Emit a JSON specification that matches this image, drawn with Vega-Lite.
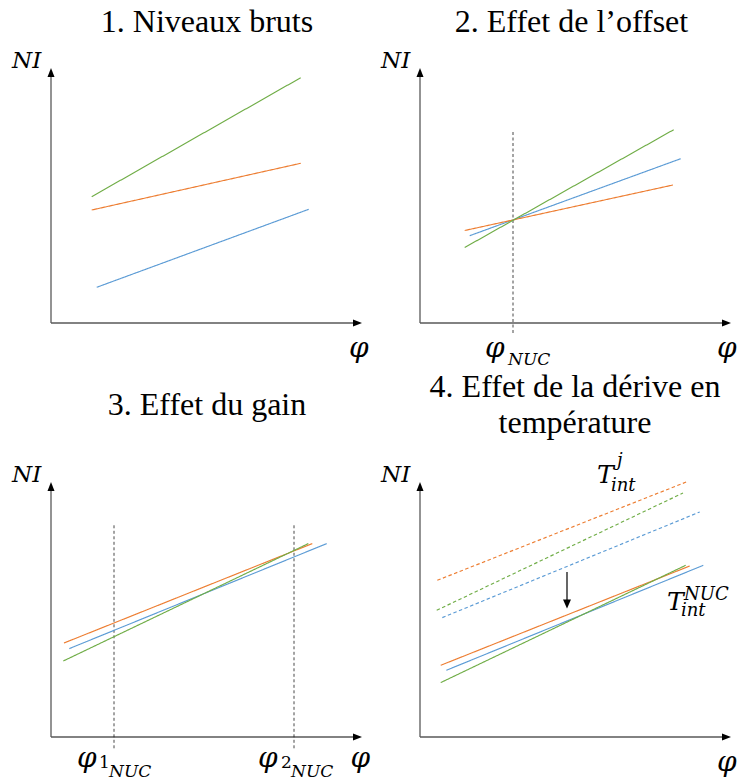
{
  "$schema": "https://vega.github.io/schema/vega-lite/v6.json",
  "padding": 0,
  "background": "white",
  "columns": 2,
  "spacing": {"row": 45, "column": 1},
  "bounds": "flush",
  "facet": {"field": "panel", "type": "ordinal", "title": null, "header": {"labels": false, "title": null, "labelExpr": "''", "labelFontSize": 0, "labelPadding": 0, "titlePadding": 0}},
  "data": {"values": [
    {"panel": 1, "kind": "axis", "x": 0, "y": 0, "x2": 0, "y2": 250},
    {"panel": 1, "kind": "axis", "x": 0, "y": 0, "x2": 305, "y2": 0},
    {"panel": 2, "kind": "axis", "x": 0, "y": 0, "x2": 0, "y2": 250},
    {"panel": 2, "kind": "axis", "x": 0, "y": 0, "x2": 305, "y2": 0},
    {"panel": 3, "kind": "axis", "x": 0, "y": 0, "x2": 0, "y2": 250},
    {"panel": 3, "kind": "axis", "x": 0, "y": 0, "x2": 305, "y2": 0},
    {"panel": 4, "kind": "axis", "x": 0, "y": 0, "x2": 0, "y2": 250},
    {"panel": 4, "kind": "axis", "x": 0, "y": 0, "x2": 305, "y2": 0},
    {"panel": 1, "kind": "head", "dir": "up", "x": 0, "y": 255},
    {"panel": 1, "kind": "head", "dir": "right", "x": 311, "y": 0},
    {"panel": 2, "kind": "head", "dir": "up", "x": 0, "y": 255},
    {"panel": 2, "kind": "head", "dir": "right", "x": 311, "y": 0},
    {"panel": 3, "kind": "head", "dir": "up", "x": 0, "y": 255},
    {"panel": 3, "kind": "head", "dir": "right", "x": 311, "y": 0},
    {"panel": 4, "kind": "head", "dir": "up", "x": 0, "y": 255},
    {"panel": 4, "kind": "head", "dir": "right", "x": 311, "y": 0},
    {"panel": 4, "kind": "head", "dir": "down", "x": 147, "y": 128.4},
    {"panel": 4, "kind": "shift", "x": 147, "y": 165, "y2": 132},

    {"panel": 1, "kind": "series", "pixel": "p1", "temp": "T_NUC", "x": 45.7, "y": 35.7, "x2": 257.7, "y2": 113.7},
    {"panel": 1, "kind": "series", "pixel": "p2", "temp": "T_NUC", "x": 40.7, "y": 113, "x2": 249.7, "y2": 159.7},
    {"panel": 1, "kind": "series", "pixel": "p3", "temp": "T_NUC", "x": 40.7, "y": 126.3, "x2": 249.7, "y2": 245.3},

    {"panel": 2, "kind": "series", "pixel": "p1", "temp": "T_NUC", "x": 49.7, "y": 87.3, "x2": 260.7, "y2": 164.3},
    {"panel": 2, "kind": "series", "pixel": "p2", "temp": "T_NUC", "x": 44.7, "y": 92.5, "x2": 253, "y2": 138},
    {"panel": 2, "kind": "series", "pixel": "p3", "temp": "T_NUC", "x": 44.7, "y": 75.5, "x2": 253.7, "y2": 193.3},
    {"panel": 2, "kind": "marker", "x": 93, "y": -10, "y2": 193.3},

    {"panel": 3, "kind": "series", "pixel": "p1", "temp": "T_NUC", "x": 18.3, "y": 88.4, "x2": 275.7, "y2": 193.4},
    {"panel": 3, "kind": "series", "pixel": "p2", "temp": "T_NUC", "x": 13, "y": 94, "x2": 261.3, "y2": 193.4},
    {"panel": 3, "kind": "series", "pixel": "p3", "temp": "T_NUC", "x": 12.3, "y": 76, "x2": 257.3, "y2": 193.4},
    {"panel": 3, "kind": "marker", "x": 63, "y": -11.3, "y2": 212},
    {"panel": 3, "kind": "marker", "x": 243, "y": -11.3, "y2": 212},

    {"panel": 4, "kind": "series", "pixel": "p1", "temp": "T_j", "x": 22.3, "y": 119.4, "x2": 279.7, "y2": 225},
    {"panel": 4, "kind": "series", "pixel": "p2", "temp": "T_j", "x": 17.3, "y": 156.7, "x2": 266.3, "y2": 255},
    {"panel": 4, "kind": "series", "pixel": "p3", "temp": "T_j", "x": 16.7, "y": 126.7, "x2": 263, "y2": 244},
    {"panel": 4, "kind": "series", "pixel": "p1", "temp": "T_NUC", "x": 26.3, "y": 66.7, "x2": 283.3, "y2": 171.7},
    {"panel": 4, "kind": "series", "pixel": "p2", "temp": "T_NUC", "x": 20.7, "y": 71.7, "x2": 269.7, "y2": 171},
    {"panel": 4, "kind": "series", "pixel": "p3", "temp": "T_NUC", "x": 20.7, "y": 54.4, "x2": 265.7, "y2": 171.7},

    {"panel": 1, "kind": "title", "label": "1. Niveaux bruts", "x": 156, "y": 291},
    {"panel": 2, "kind": "title", "label": "2. Effet de l’offset", "x": 151.5, "y": 291},
    {"panel": 3, "kind": "title", "label": "3. Effet du gain", "x": 156, "y": 322},
    {"panel": 4, "kind": "title", "label": "4. Effet de la dérive en", "x": 155, "y": 339.7},
    {"panel": 4, "kind": "title", "label": "température", "x": 155, "y": 303.7},

    {"panel": 1, "kind": "math", "role": "main", "label": "NI", "x": -39, "y": 255},
    {"panel": 2, "kind": "math", "role": "main", "label": "NI", "x": -39, "y": 255},
    {"panel": 3, "kind": "math", "role": "main", "label": "NI", "x": -39, "y": 255},
    {"panel": 4, "kind": "math", "role": "main", "label": "NI", "x": -39, "y": 255},
    {"panel": 1, "kind": "math", "role": "phi", "label": "φ", "x": 298, "y": -34},
    {"panel": 2, "kind": "math", "role": "phi", "label": "φ", "x": 297, "y": -34},
    {"panel": 3, "kind": "math", "role": "phi", "label": "φ", "x": 299.5, "y": -30},
    {"panel": 4, "kind": "math", "role": "phi", "label": "φ", "x": 297, "y": -34},
    {"panel": 2, "kind": "math", "role": "phi", "label": "φ", "x": 65, "y": -34},
    {"panel": 2, "kind": "math", "role": "sub", "label": "NUC", "x": 88, "y": -42},
    {"panel": 3, "kind": "math", "role": "phi", "label": "φ", "x": 26, "y": -30},
    {"panel": 3, "kind": "digit", "label": "1", "x": 48, "y": -31},
    {"panel": 3, "kind": "math", "role": "sub", "label": "NUC", "x": 58, "y": -40},
    {"panel": 3, "kind": "math", "role": "phi", "label": "φ", "x": 207, "y": -30},
    {"panel": 3, "kind": "digit", "label": "2", "x": 230, "y": -31},
    {"panel": 3, "kind": "math", "role": "sub", "label": "NUC", "x": 240, "y": -40},
    {"panel": 4, "kind": "math", "role": "big", "label": "T", "x": 177, "y": 253.7},
    {"panel": 4, "kind": "math", "role": "tsub", "label": "j", "x": 197, "y": 271},
    {"panel": 4, "kind": "math", "role": "tsub", "label": "int", "x": 191, "y": 245.7},
    {"panel": 4, "kind": "math", "role": "big", "label": "T", "x": 247, "y": 126.7},
    {"panel": 4, "kind": "math", "role": "tsub", "label": "NUC", "x": 264, "y": 137},
    {"panel": 4, "kind": "math", "role": "tsub", "label": "int", "x": 261, "y": 120.7}
  ]},
  "spec": {
    "width": 368,
    "height": 369,
    "encoding": {
      "x": {"field": "x", "type": "quantitative", "scale": {"domain": [-51, 317], "nice": false, "zero": false}, "axis": null},
      "y": {"field": "y", "type": "quantitative", "scale": {"domain": [-46, 323], "nice": false, "zero": false}, "axis": null}
    },
    "layer": [
      {
        "transform": [{"filter": "datum.kind === 'axis'"}],
        "mark": {"type": "rule", "color": "#595959", "strokeWidth": 1.3},
        "encoding": {"x2": {"field": "x2"}, "y2": {"field": "y2"}}
      },
      {
        "transform": [{"filter": "datum.kind === 'marker'"}],
        "mark": {"type": "rule", "color": "#1a1a1a", "strokeWidth": 0.8, "strokeDash": [3, 2.5]},
        "encoding": {"y2": {"field": "y2"}}
      },
      {
        "transform": [{"filter": "datum.kind === 'shift'"}],
        "mark": {"type": "rule", "color": "#000000", "strokeWidth": 1.2},
        "encoding": {"y2": {"field": "y2"}}
      },
      {
        "transform": [{"filter": "datum.kind === 'series'"}],
        "mark": {"type": "rule", "strokeWidth": 1.15},
        "encoding": {
          "x2": {"field": "x2"},
          "y2": {"field": "y2"},
          "color": {"field": "pixel", "type": "nominal", "scale": {"domain": ["p1", "p2", "p3"], "range": ["#5B9BD5", "#ED7D31", "#70AD47"]}, "legend": null},
          "strokeDash": {"field": "temp", "type": "nominal", "scale": {"domain": ["T_NUC", "T_j"], "range": [[1, 0], [3.5, 2.5]]}, "legend": null}
        }
      },
      {
        "transform": [{"filter": "datum.kind === 'head'"}],
        "mark": {"type": "point", "filled": true, "opacity": 1, "size": 4, "color": "#000000", "strokeWidth": 0},
        "encoding": {
          "shape": {"field": "dir", "type": "nominal", "scale": {"domain": ["up", "right", "down"], "range": ["M0,0L-3.5,9L3.5,9Z", "M0,0L-9,-3.5L-9,3.5Z", "M0,0L-4,-9L4,-9Z"]}, "legend": null}
        }
      },
      {
        "transform": [{"filter": "datum.kind === 'title'"}],
        "mark": {"type": "text", "font": "Liberation Serif", "fontSize": 32, "align": "center", "baseline": "alphabetic", "color": "#000000"},
        "encoding": {"text": {"field": "label"}}
      },
      {
        "transform": [{"filter": "datum.kind === 'digit'"}],
        "mark": {"type": "text", "font": "DejaVu Serif", "fontSize": 17, "align": "left", "baseline": "alphabetic", "color": "#000000"},
        "encoding": {"text": {"field": "label"}}
      },
      {
        "transform": [{"filter": "datum.kind === 'math' && datum.role === 'main'"}],
        "mark": {"type": "text", "font": "DejaVu Serif", "fontStyle": "italic", "fontSize": 23, "align": "left", "baseline": "alphabetic", "color": "#000000"},
        "encoding": {"text": {"field": "label"}}
      },
      {
        "transform": [{"filter": "datum.kind === 'math' && datum.role === 'phi'"}],
        "mark": {"type": "text", "font": "DejaVu Serif", "fontStyle": "italic", "fontSize": 28, "align": "left", "baseline": "alphabetic", "color": "#000000"},
        "encoding": {"text": {"field": "label"}}
      },
      {
        "transform": [{"filter": "datum.kind === 'math' && datum.role === 'sub'"}],
        "mark": {"type": "text", "font": "DejaVu Serif", "fontStyle": "italic", "fontSize": 17, "align": "left", "baseline": "alphabetic", "color": "#000000"},
        "encoding": {"text": {"field": "label"}}
      },
      {
        "transform": [{"filter": "datum.kind === 'math' && datum.role === 'big'"}],
        "mark": {"type": "text", "font": "DejaVu Serif", "fontStyle": "italic", "fontSize": 25, "align": "left", "baseline": "alphabetic", "color": "#000000"},
        "encoding": {"text": {"field": "label"}}
      },
      {
        "transform": [{"filter": "datum.kind === 'math' && datum.role === 'tsub'"}],
        "mark": {"type": "text", "font": "DejaVu Serif", "fontStyle": "italic", "fontSize": 18, "align": "left", "baseline": "alphabetic", "color": "#000000"},
        "encoding": {"text": {"field": "label"}}
      }
    ]
  },
  "config": {"view": {"stroke": null}, "header": {"labels": false, "title": null, "labelFontSize": 0, "labelPadding": 0}}
}
